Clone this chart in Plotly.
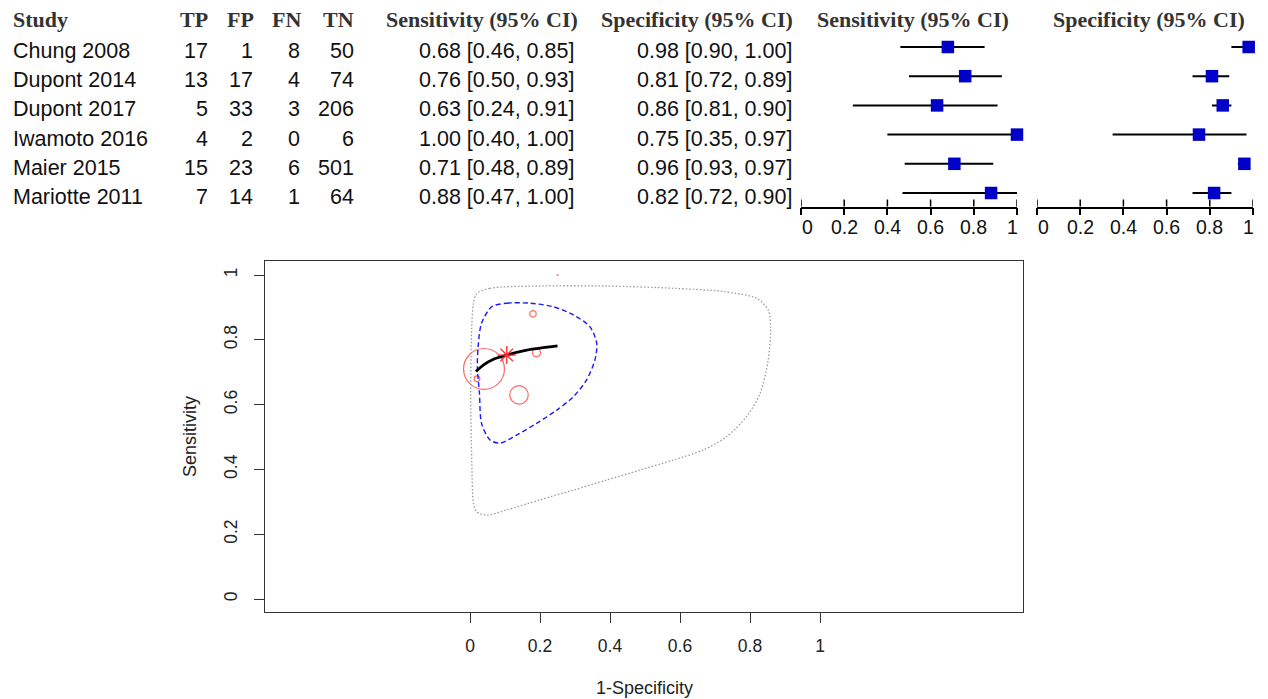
import plotly.graph_objects as go

# ---------------- data ----------------
studies = ["Chung 2008", "Dupont 2014", "Dupont 2017", "Iwamoto 2016", "Maier 2015", "Mariotte 2011"]
tp = [17, 13, 5, 4, 15, 7]
fp = [1, 17, 33, 2, 23, 14]
fn = [8, 4, 3, 0, 6, 1]
tn = [50, 74, 206, 6, 501, 64]
sens = [0.68, 0.76, 0.63, 1.00, 0.71, 0.88]
sens_lo = [0.46, 0.50, 0.24, 0.40, 0.48, 0.47]
sens_hi = [0.85, 0.93, 0.91, 1.00, 0.89, 1.00]
spec = [0.98, 0.81, 0.86, 0.75, 0.96, 0.82]
spec_lo = [0.90, 0.72, 0.81, 0.35, 0.93, 0.72]
spec_hi = [1.00, 0.89, 0.90, 0.97, 0.97, 0.90]

forest_ticks = [0, 0.2, 0.4, 0.6, 0.8, 1]
forest_ticktext = ["0", "0.2", "0.4", "0.6", "0.8", "1"]
sroc_ticks = [0, 0.2, 0.4, 0.6, 0.8, 1]
sroc_ticktext = ["0", "0.2", "0.4", "0.6", "0.8", "1"]

# summary estimate (1-specificity, sensitivity)
summary_fpr = [0.105]
summary_sens = [0.753]

# SROC curve
sroc_fpr = [0.017, 0.038, 0.067, 0.105, 0.152, 0.200, 0.250]
sroc_sens = [0.702, 0.722, 0.740, 0.753, 0.766, 0.774, 0.781]

# 95% confidence region
conf_fpr = [0.062, 0.105, 0.171, 0.238, 0.295, 0.343, 0.362, 0.357, 0.333, 0.295, 0.248,
            0.190, 0.133, 0.086, 0.057, 0.033, 0.027, 0.021, 0.024, 0.033]
conf_sens = [0.902, 0.913, 0.913, 0.902, 0.877, 0.840, 0.789, 0.738, 0.676, 0.624, 0.583,
             0.542, 0.506, 0.481, 0.491, 0.542, 0.635, 0.717, 0.789, 0.851]

# 95% prediction region
pred_fpr = [0.019, 0.057, 0.200, 0.390, 0.581, 0.724, 0.819, 0.852, 0.859, 0.852, 0.829,
            0.790, 0.733, 0.667, 0.581, 0.486, 0.390, 0.295, 0.200, 0.105, 0.048, 0.019,
            0.010, 0.005, 0.002, 0.005, 0.010]
pred_sens = [0.943, 0.959, 0.966, 0.966, 0.959, 0.949, 0.928, 0.892, 0.840, 0.738, 0.635,
             0.563, 0.501, 0.460, 0.429, 0.398, 0.367, 0.336, 0.306, 0.275, 0.259, 0.269,
             0.295, 0.429, 0.635, 0.840, 0.913]

# ---------------- layout helpers ----------------
W, H = 1268, 699
def px(x):
    return x / W
def py(y):
    return 1 - y / H

SANS = "Liberation Sans, Arial, sans-serif"
SERIF = "Liberation Serif, Times New Roman, serif"
rows = list(range(len(studies)))
fpr = [1 - s for s in spec]
n_tot = [a + b + c + d for a, b, c, d in zip(tp, fp, fn, tn)]
BLUE_SQ = "#0000C8"

fig = go.Figure()

# ---------------- SROC panel ----------------
fig.add_trace(go.Scatter(
    x=fpr, y=sens, mode="markers", xaxis="x", yaxis="y",
    marker=dict(symbol="circle-open", size=[n * 0.075 for n in n_tot],
                color="#FF2A2A", line=dict(width=1.2, color="#FF2A2A")),
    hoverinfo="skip", showlegend=False))
fig.add_trace(go.Scatter(
    x=pred_fpr + pred_fpr[:1], y=pred_sens + pred_sens[:1], mode="lines",
    line=dict(color="#9A9A9A", width=1.3, dash="1.5px,2px", shape="spline", smoothing=0.8),
    hoverinfo="skip", showlegend=False))
fig.add_trace(go.Scatter(
    x=conf_fpr + conf_fpr[:1], y=conf_sens + conf_sens[:1], mode="lines",
    line=dict(color="#1A1AFF", width=1.4, dash="5px,3px", shape="spline", smoothing=0.8),
    hoverinfo="skip", showlegend=False))
fig.add_trace(go.Scatter(
    x=sroc_fpr, y=sroc_sens, mode="lines",
    line=dict(color="black", width=2.8, shape="spline"),
    hoverinfo="skip", showlegend=False))
fig.add_trace(go.Scatter(
    x=summary_fpr, y=summary_sens, mode="markers",
    marker=dict(symbol="asterisk-open", size=15, color="#FF2A2A",
                line=dict(width=1.3, color="#FF2A2A")),
    hoverinfo="skip", showlegend=False))

# ---------------- forest panels ----------------
def forest(est, lo, hi, xa):
    fig.add_trace(go.Scatter(
        x=est, y=rows, mode="markers", xaxis=xa, yaxis="y2",
        error_x=dict(type="data", symmetric=False,
                     array=[h - e for h, e in zip(hi, est)],
                     arrayminus=[e - l for e, l in zip(est, lo)],
                     color="black", thickness=2, width=0),
        marker=dict(symbol="square", size=12.5, color=BLUE_SQ, line=dict(width=0)),
        cliponaxis=False, hoverinfo="skip", showlegend=False))

forest(sens, sens_lo, sens_hi, "x2")
forest(spec, spec_lo, spec_hi, "x3")

shapes = []
ann = []
tick_font = dict(family=SANS, size=19.5, color="#111111")
for xa in ["x2", "x3"]:
    for i, (t, lab) in enumerate(zip(forest_ticks, forest_ticktext)):
        shapes.append(dict(type="line", xref=xa, yref="y2 domain", x0=t, x1=t,
                           ysizemode="pixel", yanchor=0, y0=0, y1=7,
                           line=dict(color="black", width=1.5)))
        shift = 6 if i == 0 else (-5 if i == len(forest_ticks) - 1 else 0)
        ann.append(dict(text=lab, x=t, y=py(227), xref=xa, yref="paper", xshift=shift,
                        xanchor="center", yanchor="middle", showarrow=False, font=tick_font))

# ---------------- table text ----------------
hdr_font = dict(family=SERIF, size=22, color="#333333")
txt_font = dict(family=SANS, size=21.5, color="#111111")
HY = py(20)

def header(text, x, anchor):
    ann.append(dict(text="<b>%s</b>" % text, x=px(x), y=HY, xref="paper", yref="paper",
                    xanchor=anchor, yanchor="middle", showarrow=False, font=hdr_font))

header("Study", 11, "left")
header("TP", 210, "right")
header("FP", 256, "right")
header("FN", 303, "right")
header("TN", 356, "right")
header("Sensitivity (95% CI)", 482, "center")
header("Specificity (95% CI)", 697, "center")
header("Sensitivity (95% CI)", 913, "center")
header("Specificity (95% CI)", 1149, "center")

def cell(text, x, r, anchor):
    ann.append(dict(text=text, x=px(x), y=r, xref="paper", yref="y2",
                    xanchor=anchor, yanchor="middle", yshift=-4, showarrow=False,
                    font=txt_font))

for r in rows:
    cell(studies[r], 11, r, "left")
    cell(str(tp[r]), 210, r, "right")
    cell(str(fp[r]), 255, r, "right")
    cell(str(fn[r]), 302, r, "right")
    cell(str(tn[r]), 356, r, "right")
    cell("%.2f [%.2f, %.2f]" % (sens[r], sens_lo[r], sens_hi[r]), 417, r, "left")
    cell("%.2f [%.2f, %.2f]" % (spec[r], spec_lo[r], spec_hi[r]), 635, r, "left")

# SROC axis titles
ann.append(dict(text="Sensitivity", x=px(190), y=py(437), xref="paper", yref="paper",
                textangle=-90, showarrow=False, xanchor="center", yanchor="middle",
                font=dict(family=SANS, size=18, color="#222222")))
ann.append(dict(text="1-Specificity", x=px(645), y=py(688), xref="paper", yref="paper",
                showarrow=False, xanchor="center", yanchor="middle",
                font=dict(family=SANS, size=18, color="#222222")))

forest_axis = dict(range=[0, 1], tickvals=forest_ticks, showticklabels=False,
                   showline=True, linecolor="black", linewidth=1.5,
                   ticks="outside", ticklen=7, tickwidth=1.5, tickcolor="black",
                   showgrid=False, zeroline=False, anchor="y2")

fig.update_layout(
    width=W, height=H, margin=dict(l=0, r=0, t=0, b=0),
    paper_bgcolor="white", plot_bgcolor="white", showlegend=False,
    xaxis=dict(domain=[px(265), px(1023)], range=[-0.5857, 1.58],
               tickvals=sroc_ticks, ticktext=sroc_ticktext,
               showline=True, mirror=True, linecolor="#333333", linewidth=1.3,
               ticks="outside", ticklen=10, tickwidth=1.3, tickcolor="#333333",
               ticklabelstandoff=8,
               showgrid=False, zeroline=False, anchor="y",
               tickfont=dict(family=SANS, size=17.5, color="#222222")),
    yaxis=dict(domain=[py(612), py(261)], range=[-0.0401, 1.0432],
               tickvals=sroc_ticks, ticktext=sroc_ticktext, tickangle=-90,
               showline=True, mirror=True, linecolor="#333333", linewidth=1.3,
               ticks="outside", ticklen=10, tickwidth=1.3, tickcolor="#333333",
               ticklabelstandoff=10,
               showgrid=False, zeroline=False, anchor="x",
               tickfont=dict(family=SANS, size=17.5, color="#222222")),
    xaxis2=dict(domain=[px(801), px(1017)], **forest_axis),
    xaxis3=dict(domain=[px(1037), px(1253)], **forest_axis),
    yaxis2=dict(domain=[py(206.5), py(30)], range=[5.462, -0.582], anchor="x2",
                visible=False, showgrid=False, zeroline=False),
    annotations=ann, shapes=shapes,
)

fig.write_html("out.html", config={"displayModeBar": False},
               post_script="document.body.style.margin='0';document.body.style.overflow='hidden';")
